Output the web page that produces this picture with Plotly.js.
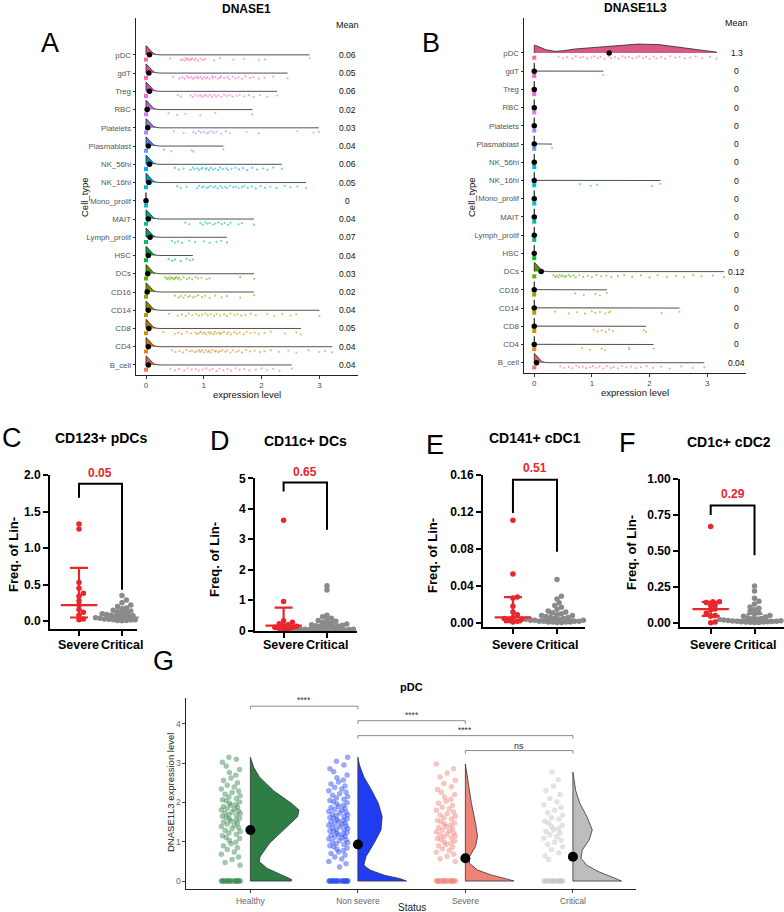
<!DOCTYPE html>
<html>
<head>
<meta charset="utf-8">
<script src="https://cdn.plot.ly/plotly-3.0.1.min.js"></script>
<style>
  body { margin: 0; background: #fff; }
  #plotArea { width: 784px; height: 912px; }
</style>
</head>
<body>
<div id="plotArea"></div>
<script>
// ---------- A / B : ridgelines of DNASE1 and DNASE1L3 per cell type ----------
var cellTypes = ["B_cell", "CD4", "CD8", "CD14", "CD16", "DCs", "HSC", "Lymph_prolif", "MAIT",
    "Mono_prolif", "NK_16hi", "NK_56hi", "Plasmablast", "Platelets", "RBC", "Treg", "gdT", "pDC"];
var cellColors = ["#F8766D", "#E88526", "#D39200", "#B79F00", "#93AA00", "#5EB300", "#00BA38", "#00BF74", "#00C19F",
    "#00BFC4", "#00B9E3", "#00ADFA", "#619CFF", "#AE87FF", "#DB72FB", "#F564E3", "#FF61C3", "#FF699C"];

var dnase1Mean = [0.04, 0.04, 0.05, 0.04, 0.02, 0.03, 0.04, 0.07, 0.04, 0, 0.05, 0.06, 0.04, 0.03, 0.02, 0.06, 0.05, 0.06];
var dnase1l3Mean = [0.04, 0, 0, 0, 0, 0.12, 0, 0, 0, 0, 0, 0, 0, 0, 0, 0, 0, 1.3];

// non-zero expression values (the strip under each ridge)
var dnase1Points = [
    [0.42, 0.5, 0.57, 0.66, 0.72, 0.79, 0.86, 0.91, 0.98, 1.04, 1.1, 1.15, 1.22, 1.27, 1.34, 1.41, 1.47, 1.55, 1.62, 1.7, 1.79, 1.9, 2.0, 2.1, 2.2, 2.31, 2.52],
    [0.45, 0.51, 0.58, 0.64, 0.7, 0.76, 0.8, 0.85, 0.88, 0.92, 0.94, 0.97, 1.0, 1.03, 1.07, 1.09, 1.12, 1.15, 1.19, 1.21, 1.25, 1.28, 1.32, 1.37, 1.4, 1.46, 1.5, 1.56, 1.6, 1.66, 1.73, 1.8, 1.88, 1.97, 2.05, 2.16, 2.3, 2.46, 2.6, 2.81, 3.0, 3.1, 3.22],
    [0.3, 0.5, 0.56, 0.62, 0.71, 0.78, 0.85, 0.88, 0.92, 0.95, 0.99, 1.01, 1.04, 1.08, 1.1, 1.13, 1.17, 1.19, 1.22, 1.26, 1.28, 1.31, 1.35, 1.4, 1.43, 1.47, 1.53, 1.57, 1.62, 1.69, 1.74, 1.81, 1.88, 1.95, 2.05, 2.16, 2.4, 2.6, 2.68],
    [0.4, 0.55, 0.62, 0.69, 0.74, 0.8, 0.87, 0.92, 0.97, 1.03, 1.07, 1.12, 1.18, 1.22, 1.28, 1.35, 1.4, 1.46, 1.53, 1.58, 1.65, 1.72, 1.81, 1.9, 2.1, 2.22, 2.36, 2.5, 2.6, 3.0],
    [0.5, 0.56, 0.6, 0.65, 0.68, 0.73, 0.76, 0.81, 0.85, 0.9, 0.97, 1.02, 1.1, 1.2, 1.31, 1.4, 1.63, 1.87],
    [0.33, 0.36, 0.38, 0.41, 0.42, 0.45, 0.46, 0.49, 0.5, 0.52, 0.55, 0.57, 0.6, 0.65, 0.71, 0.75, 0.8, 0.86, 0.9, 0.96, 1.05, 1.1, 1.63, 1.87],
    [0.39, 0.45, 0.5, 0.6, 0.7, 0.76, 0.81],
    [0.45, 0.5, 0.55, 0.62, 0.75, 0.85, 1.0, 1.1, 1.22, 1.3, 1.4],
    [0.68, 0.75, 0.94, 0.98, 1.03, 1.06, 1.1, 1.16, 1.2, 1.25, 1.31, 1.36, 1.42, 1.46, 1.6, 1.66, 1.87],
    [],
    [0.54, 0.6, 0.7, 0.88, 0.92, 0.97, 1.0, 1.05, 1.08, 1.12, 1.17, 1.2, 1.24, 1.29, 1.32, 1.37, 1.4, 1.45, 1.51, 1.55, 1.6, 1.66, 1.7, 1.76, 1.83, 1.9, 1.98, 2.06, 2.15, 2.26, 2.4, 2.5, 2.62, 2.77],
    [0.5, 0.57, 0.65, 0.77, 0.81, 0.84, 0.89, 0.92, 0.96, 0.98, 1.03, 1.05, 1.09, 1.12, 1.16, 1.2, 1.25, 1.28, 1.33, 1.39, 1.42, 1.48, 1.55, 1.61, 1.68, 1.75, 1.84, 1.92, 2.03, 2.1, 2.2, 2.35],
    [0.31, 0.44, 0.79, 0.82, 1.34],
    [0.48, 0.65, 0.82, 0.86, 0.91, 0.95, 1.0, 1.05, 1.08, 1.13, 1.17, 1.22, 1.3, 1.38, 1.45, 1.74, 1.95, 2.62, 2.9, 2.99],
    [0.39, 0.54, 0.68, 0.94, 1.2, 1.84],
    [0.55, 0.6, 0.77, 0.81, 0.85, 0.9, 0.94, 0.97, 1.01, 1.03, 1.07, 1.11, 1.14, 1.18, 1.21, 1.25, 1.3, 1.35, 1.4, 1.45, 1.5, 1.57, 1.62, 1.7, 1.78, 1.86, 1.97, 2.1, 2.27],
    [0.47, 0.58, 0.63, 0.67, 0.71, 0.74, 0.78, 0.81, 0.84, 0.88, 0.9, 0.94, 0.97, 1.0, 1.04, 1.06, 1.1, 1.14, 1.16, 1.2, 1.24, 1.28, 1.3, 1.35, 1.41, 1.44, 1.5, 1.55, 1.6, 1.66, 1.72, 1.8, 1.86, 1.95, 2.05, 2.2, 2.45],
    [0.42, 0.6, 0.63, 0.66, 0.69, 0.7, 0.73, 0.75, 0.78, 0.8, 0.84, 0.86, 0.9, 0.94, 0.98, 1.02, 1.18, 1.28, 1.51, 1.69, 1.95, 2.06, 2.83]
];
var dnase1l3Points = [
    [0.45, 0.52, 0.6, 0.66, 0.73, 0.78, 0.84, 0.9, 0.97, 1.02, 1.08, 1.13, 1.2, 1.26, 1.33, 1.38, 1.45, 1.52, 1.6, 1.68, 1.76, 1.85, 1.95, 2.06, 2.2, 2.35, 2.55, 2.75, 2.95],
    [0.83, 0.97, 1.17, 1.23, 1.64, 1.65, 2.07],
    [1.03, 1.1, 1.17, 1.24, 1.3, 1.37, 1.9, 1.94],
    [0.36, 0.6, 0.74, 0.88, 1.0, 1.06, 1.14, 1.23, 1.29, 1.32, 2.21, 2.52],
    [0.71, 0.86, 1.06, 1.14, 1.26],
    [0.33, 0.36, 0.39, 0.42, 0.44, 0.47, 0.5, 0.53, 0.55, 0.6, 0.63, 0.68, 0.72, 0.78, 0.85, 0.93, 1.0, 1.08, 1.16, 1.25, 1.34, 1.45, 1.56, 1.7, 1.85, 2.0, 2.14, 2.3, 2.46, 2.6, 2.76, 2.9, 3.1, 3.29],
    [], [], [], [],
    [0.79, 0.98, 1.09, 2.04, 2.19],
    [],
    [0.31],
    [], [], [],
    [1.2],
    [0.42, 0.5, 0.57, 0.66, 0.72, 0.8, 0.85, 0.92, 0.99, 1.04, 1.1, 1.15, 1.22, 1.29, 1.33, 1.4, 1.46, 1.53, 1.58, 1.64, 1.7, 1.77, 1.82, 1.89, 1.94, 2.0, 2.07, 2.12, 2.2, 2.27, 2.36, 2.45, 2.52, 2.61, 2.7, 2.8, 2.91, 3.05, 3.16]
];

// density outline of the pDC ridge in panel B
var pdcDensX = [0, 0.02, 0.1, 0.2, 0.36, 0.5, 0.71, 1.0, 1.29, 1.5, 1.81, 2.16, 2.4, 2.62, 2.91, 3.16];
var pdcDensY = [0.42, 0.42, 0.33, 0.18, 0.09, 0.12, 0.22, 0.3, 0.37, 0.42, 0.49, 0.46, 0.38, 0.27, 0.15, 0.05];
// shared density shape of the zero-inflated ridges
var ridgeX = [0, 0.015, 0.035, 0.06, 0.09, 0.13, 0.18, 0.24];
var ridgeY = [0.5, 0.47, 0.4, 0.28, 0.15, 0.07, 0.02, 0];

// ---------- C-F : flow cytometry, Severe vs Critical ----------
var cd123Severe = [1.33, 1.26, 0.53, 0.45, 0.38, 0.34, 0.28, 0.22, 0.16, 0.12, 0.08, 0.03, 0.02];
var cd123Critical = [0.35, 0.29, 0.25, 0.22, 0.2, 0.18, 0.17, 0.15, 0.14, 0.13, 0.12, 0.11, 0.1, 0.095, 0.09, 0.085, 0.08, 0.075,
    0.07, 0.065, 0.06, 0.055, 0.05, 0.045, 0.04, 0.04, 0.035, 0.03, 0.03, 0.025, 0.02, 0.02, 0.015, 0.01, 0.01, 0.005];
var cd11cSevere = [3.62, 0.95, 0.32, 0.27, 0.22, 0.19, 0.16, 0.14, 0.11, 0.09, 0.07, 0.04, 0.02];
var cd11cCritical = [1.47, 1.33, 0.5, 0.45, 0.4, 0.36, 0.33, 0.3, 0.27, 0.25, 0.23, 0.21, 0.19, 0.17, 0.16, 0.15, 0.14, 0.13,
    0.12, 0.11, 0.1, 0.09, 0.08, 0.07, 0.07, 0.06, 0.05, 0.05, 0.04, 0.04, 0.03, 0.03, 0.02, 0.02, 0.01, 0.01, 0.01, 0, 0, 0];
var cd141Severe = [0.111, 0.053, 0.028, 0.027, 0.018, 0.012, 0.009, 0.006, 0.005, 0.004, 0.003, 0.002, 0.001];
var cd141Critical = [0.047, 0.029, 0.026, 0.022, 0.019, 0.017, 0.015, 0.013, 0.012, 0.011, 0.01, 0.009, 0.008, 0.008, 0.007,
    0.006, 0.006, 0.005, 0.005, 0.004, 0.004, 0.004, 0.003, 0.003, 0.003, 0.002, 0.002, 0.002, 0.002, 0.001, 0.001, 0.001, 0.001, 0.0005, 0.0005];
var cd1cSevere = [0.67, 0.146, 0.145, 0.14, 0.123, 0.12, 0.095, 0.09, 0.065, 0.05, 0.045, 0.005, 0];
var cd1cCritical = [0.255, 0.22, 0.17, 0.15, 0.13, 0.11, 0.1, 0.09, 0.08, 0.07, 0.06, 0.05, 0.045, 0.04, 0.035, 0.03, 0.028,
    0.025, 0.022, 0.02, 0.018, 0.016, 0.015, 0.013, 0.012, 0.01, 0.01, 0.008, 0.007, 0.006, 0.005, 0.004, 0.003, 0.002, 0.001];

var panelTitles = ["CD123+ pDCs", "CD11c+ DCs", "CD141+ cDC1", "CD1c+ cDC2"];
var panelLetters = ["C", "D", "E", "F"];
var pValues = ["0.05", "0.65", "0.51", "0.29"];
var severeMedian = [0.22, 0.16, 0.006, 0.095];
var severeLow = [0.05, 0.04, 0.001, 0.047];
var severeHigh = [0.73, 0.75, 0.028, 0.145];
var criticalMedian = [0.05, 0.1, 0.004, 0.02];
var criticalLow = [0.03, 0.04, 0.002, 0.008];
var criticalHigh = [0.1, 0.2, 0.01, 0.06];
var groupLabels = ["Severe", "Critical"];

// ---------- G : DNASE1L3 in pDC by status ----------
var statusGroups = ["Healthy", "Non severe", "Severe", "Critical"];
var statusMeans = [1.3, 0.93, 0.58, 0.62];
var gHealthy = [0, 0, 0, 0, 0, 0, 0, 0, 0, 0, 0, 0, 0, 0, 0, 0, 0, 0, 0, 0,
    0.4, 0.47, 0.55, 0.61, 0.68, 0.74, 0.8, 0.85, 0.9, 0.95, 0.99, 1.03, 1.08, 1.11, 1.15, 1.19, 1.22, 1.26, 1.29, 1.33,
    1.36, 1.39, 1.42, 1.45, 1.48, 1.5, 1.53, 1.55, 1.58, 1.6, 1.62, 1.65, 1.67, 1.69, 1.72, 1.74, 1.76, 1.78, 1.81, 1.83,
    1.85, 1.88, 1.9, 1.93, 1.95, 1.98, 2.01, 2.04, 2.07, 2.1, 2.14, 2.17, 2.21, 2.25, 2.29, 2.34, 2.39, 2.44, 2.5, 2.56,
    2.62, 2.69, 2.76, 2.84, 2.93, 3.02, 3.1, 3.15];
var gNonSevere = [0, 0, 0, 0, 0, 0, 0, 0, 0, 0, 0, 0, 0, 0, 0, 0, 0, 0, 0, 0, 0, 0,
    0.36, 0.44, 0.5, 0.56, 0.61, 0.66, 0.7, 0.74, 0.78, 0.81, 0.84, 0.87, 0.9, 0.93, 0.95, 0.98, 1.0, 1.03, 1.05, 1.07,
    1.1, 1.12, 1.14, 1.16, 1.18, 1.2, 1.22, 1.24, 1.26, 1.28, 1.3, 1.32, 1.34, 1.36, 1.38, 1.4, 1.42, 1.44, 1.46, 1.48,
    1.5, 1.52, 1.54, 1.56, 1.58, 1.6, 1.62, 1.64, 1.66, 1.68, 1.7, 1.73, 1.75, 1.77, 1.8, 1.82, 1.85, 1.87, 1.9, 1.93,
    1.96, 1.99, 2.02, 2.05, 2.08, 2.11, 2.15, 2.18, 2.22, 2.26, 2.3, 2.34, 2.38, 2.42, 2.47, 2.52, 2.57, 2.63, 2.7, 2.78,
    2.86, 2.95, 3.05, 3.15];
var gSevere = [0, 0, 0, 0, 0, 0, 0, 0, 0, 0, 0, 0, 0, 0, 0, 0, 0, 0, 0, 0,
    0.5, 0.57, 0.63, 0.68, 0.73, 0.78, 0.82, 0.86, 0.9, 0.93, 0.96, 0.99, 1.02, 1.05, 1.08, 1.1, 1.13, 1.15, 1.18, 1.2,
    1.23, 1.25, 1.28, 1.3, 1.33, 1.36, 1.39, 1.42, 1.45, 1.48, 1.51, 1.54, 1.58, 1.61, 1.65, 1.68, 1.72, 1.76, 1.8, 1.84,
    1.88, 1.93, 1.98, 2.03, 2.08, 2.14, 2.2, 2.26, 2.33, 2.4, 2.48, 2.56, 2.65, 2.75, 2.86, 2.98];
var gCritical = [0, 0, 0, 0, 0, 0, 0, 0, 0, 0, 0, 0, 0, 0, 0, 0,
    0.55, 0.64, 0.72, 0.8, 0.87, 0.93, 0.99, 1.04, 1.09, 1.13, 1.18, 1.22, 1.26, 1.3, 1.34, 1.38, 1.42, 1.47, 1.52, 1.57,
    1.62, 1.68, 1.74, 1.8, 1.87, 1.94, 2.02, 2.1, 2.2, 2.3, 2.42, 2.58, 2.77];
// half-violin outlines: expression level and density width
var violinY = [
    [0, 0.04, 0.15, 0.32, 0.49, 0.62, 0.96, 1.3, 1.64, 1.81, 1.98, 2.3, 2.65, 2.9, 3.15],
    [0, 0.06, 0.15, 0.28, 0.4, 0.62, 0.96, 1.3, 1.64, 1.98, 2.3, 2.65, 2.95, 3.15],
    [0, 0.06, 0.15, 0.28, 0.45, 0.62, 0.88, 1.13, 1.47, 1.98, 2.65, 2.98],
    [0, 0.11, 0.23, 0.4, 0.58, 0.79, 1.04, 1.3, 1.64, 1.98, 2.3, 2.77]
];
var violinW = [
    [0.38, 0.384, 0.29, 0.158, 0.083, 0.09, 0.177, 0.31, 0.44, 0.452, 0.38, 0.215, 0.083, 0.03, 0],
    [0.452, 0.395, 0.245, 0.113, 0.056, 0.075, 0.15, 0.215, 0.226, 0.19, 0.13, 0.056, 0.015, 0],
    [0.452, 0.376, 0.245, 0.113, 0.038, 0.038, 0.094, 0.113, 0.094, 0.056, 0.019, 0],
    [0.452, 0.357, 0.245, 0.13, 0.075, 0.087, 0.15, 0.18, 0.13, 0.064, 0.026, 0]
];
var comparisons = [[1, 2, "****"], [2, 3, "****"], [2, 4, "****"], [3, 4, "ns"]];

// ---------- drawing ----------
var W = 784, H = 912;
function px(x) { return x / W; }
function py(y) { return 1 - y / H; }
var FONT = "Liberation Sans, Arial, sans-serif";

var traces = [];
var annotations = [];
var shapes = [];
function add(t) { t.hoverinfo = "skip"; t.showlegend = false; traces.push(t); }
function label(x, y, text, opts) {
    var a = {x: px(x), y: py(y), xref: "paper", yref: "paper", text: text, showarrow: false,
        xanchor: "center", yanchor: "middle", font: {family: FONT, size: 10, color: "#000"}};
    for (var k in opts) a[k] = opts[k];
    annotations.push(a);
}
// ridge fills read a little darker than the points
function darker(hex, f) {
    var n = parseInt(hex.slice(1), 16);
    var r = Math.round(((n >> 16) & 255) * f), g = Math.round(((n >> 8) & 255) * f), b = Math.round((n & 255) * f);
    return "rgb(" + r + "," + g + "," + b + ")";
}

var yJit = [0.05, -0.04, 0.02, -0.06, 0.07, -0.01, 0.03, -0.05, 0.0, 0.06, -0.03, 0.04, -0.07];

function drawRidges(points, means, xa, ya, meanX, customPdc) {
    cellTypes.forEach(function(name, i) {
        var pts = points[i];
        var col = cellColors[i];
        var maxV = pts.length ? Math.max.apply(null, pts) : 0;
        var rx, ry;
        if (customPdc && i === 17) {
            rx = [0].concat(pdcDensX).concat([maxV]);
            ry = [i].concat(pdcDensY.map(function(h) { return i + h; })).concat([i]);
        } else if (means[i] === 0) {
            rx = [0, 0, 0.004, maxV];
            ry = [i, i + 0.45, i + 0.01, i];
        } else {
            rx = [0].concat(ridgeX).concat([Math.max(maxV, 0.24)]);
            ry = [i].concat(ridgeY.map(function(h) { return i + h; })).concat([i]);
        }
        add({type: "scatter", x: rx, y: ry, xaxis: xa, yaxis: ya, mode: "lines", fill: "toself",
            fillcolor: darker(col, 0.85), line: {color: "#262626", width: 0.8}});
        add({type: "scatter", x: pts, y: pts.map(function(v, k) { return i - 0.25 + yJit[k % yJit.length]; }),
            xaxis: xa, yaxis: ya, mode: "markers", marker: {size: 2.2, color: col, opacity: 0.6}});
        add({type: "scatter", x: [0], y: [i - 0.26], xaxis: xa, yaxis: ya, mode: "markers",
            marker: {symbol: "square", size: 4, color: col}});
        add({type: "scatter", x: [means[i]], y: [i], xaxis: xa, yaxis: ya, mode: "markers",
            marker: {size: 5.5, color: "#000"}});
        annotations.push({x: meanX, y: i, xref: xa, yref: ya, text: String(means[i]), showarrow: false,
            font: {family: FONT, size: 8.5, color: "#111"}});
    });
    annotations.push({x: meanX, y: 18.64, xref: xa, yref: ya, text: "Mean", showarrow: false,
        font: {family: FONT, size: 9, color: "#111"}});
}
drawRidges(dnase1Points, dnase1Mean, "x", "y", 3.48, false);
drawRidges(dnase1l3Points, dnase1l3Mean, "x2", "y2", 3.51, true);

function ridgeAxes(x0, x1, y0, y1, xr, yr, anchorX, anchorY) {
    return [{
        domain: [px(x0), px(x1)], range: xr, anchor: anchorY, tickvals: [0, 1, 2, 3], ticks: "outside",
        ticklen: 2.5, tickcolor: "#333", showline: true, linecolor: "#222", linewidth: 1, showgrid: false,
        zeroline: false, tickfont: {family: FONT, size: 8, color: "#4d4d4d"}
    }, {
        domain: [py(y0), py(y1)], range: yr, anchor: anchorX, tickvals: cellTypes.map(function(c, i) { return i; }),
        ticktext: cellTypes, ticks: "outside", ticklen: 2.5, tickcolor: "#333", showline: true, linecolor: "#222",
        linewidth: 1, showgrid: false, zeroline: false, tickfont: {family: FONT, size: 7.8, color: "#555"}
    }];
}
var axA = ridgeAxes(136, 358, 375, 18, [-0.173, 3.668], [-0.55, 19.02], "x", "y");
var axB = ridgeAxes(524, 746, 373, 18, [-0.178, 3.674], [-0.565, 18.92], "x2", "y2");

label(50, 43, "A", {font: {family: FONT, size: 27, color: "#000"}});
label(431, 43, "B", {font: {family: FONT, size: 27, color: "#000"}});
label(247, 9, "<b>DNASE1</b>", {font: {family: FONT, size: 12, color: "#000"}});
label(635, 8, "<b>DNASE1L3</b>", {font: {family: FONT, size: 12, color: "#000"}});
label(247, 394, "expression level", {font: {family: FONT, size: 9.5, color: "#111"}});
label(635, 392, "expression level", {font: {family: FONT, size: 9.5, color: "#111"}});
label(84, 197, "Cell_type", {textangle: -90, font: {family: FONT, size: 9.5, color: "#111"}});
label(471, 197, "Cell_type", {textangle: -90, font: {family: FONT, size: 9.5, color: "#111"}});

// C-F panels
var panelBox = [
    {x0: 50, x1: 137, y0: 628.8, y1: 475, xr: [-0.674, 1.349], yr: [-0.105, 2.0],
        tv: [0, 0.5, 1, 1.5, 2], tt: ["0.0", "0.5", "1.0", "1.5", "2.0"]},
    {x0: 255, x1: 356.5, y0: 630.5, y1: 478.3, xr: [-0.659, 1.68], yr: [0, 5],
        tv: [0, 1, 2, 3, 4, 5], tt: ["0", "1", "2", "3", "4", "5"]},
    {x0: 483, x1: 585, y0: 627, y1: 475, xr: [-0.68, 1.636], yr: [-0.0043, 0.16],
        tv: [0, 0.04, 0.08, 0.12, 0.16], tt: ["0.00", "0.04", "0.08", "0.12", "0.16"]},
    {x0: 680, x1: 783.6, y0: 627, y1: 479, xr: [-0.70, 1.664], yr: [-0.03, 1.0],
        tv: [0, 0.25, 0.5, 0.75, 1], tt: ["0.00", "0.25", "0.50", "0.75", "1.00"]}
];
var letterPos = [[12, 438], [220, 441], [435, 445], [627, 443]];
var titlePos = [[101, 438], [305, 441], [535, 438], [729, 442]];
var yTitlePos = [[13, 555], [214, 560], [432, 555], [631, 553]];
var bracketPos = [[1.69, 1.88, 0.43, 2.03], [4.57, 4.86, 3.31, 5.22], [0.119, 0.155, 0.077, 0.168], [0.75, 0.815, 0.47, 0.895]];
var severeVals = [cd123Severe, cd11cSevere, cd141Severe, cd1cSevere];
var criticalVals = [cd123Critical, cd11cCritical, cd141Critical, cd1cCritical];

// beeswarm layout: offsets in category units so dots of diameter d overlap only a little
function swarm(vals, pxY, pxX, d) {
    var order = vals.map(function(v, i) { return i; }).sort(function(a, b) { return vals[a] - vals[b]; });
    var placed = [], out = [];
    var cands = [0];
    for (var s = 1; s < 60; s++) { cands.push(s * d * 0.4, -s * d * 0.4); }
    order.forEach(function(i) {
        var y = vals[i] * pxY, x = 0;
        for (var c = 0; c < cands.length; c++) {
            var ok = placed.every(function(p) {
                return (p.x - cands[c]) * (p.x - cands[c]) + (p.y - y) * (p.y - y) >= d * d * 0.5;
            });
            if (ok) { x = cands[c]; break; }
        }
        placed.push({x: x, y: y});
        out[i] = x / pxX;
    });
    return out;
}

var layoutAxes = {};
panelBox.forEach(function(b, p) {
    var n = p + 3, xa = "x" + n, ya = "y" + n;
    var pxY = (b.y0 - b.y1) / (b.yr[1] - b.yr[0]);
    var pxX = (b.x1 - b.x0) / (b.xr[1] - b.xr[0]);
    function toPixY(v) { return b.y0 - (v - b.yr[0]) * pxY; }
    function toPixX(v) { return b.x0 + (v - b.xr[0]) * pxX; }
    var dot = 5.5;
    var offC = swarm(criticalVals[p], pxY, pxX, dot);
    var offS = swarm(severeVals[p], pxY, pxX, dot);
    add({type: "scatter", x: offC.map(function(o) { return 1 + o; }), y: criticalVals[p], xaxis: xa, yaxis: ya,
        mode: "markers", cliponaxis: false, marker: {size: dot, color: "#8a8a8a"}});
    add({type: "scatter", x: [1], y: [criticalMedian[p]], xaxis: xa, yaxis: ya, mode: "markers", cliponaxis: false,
        marker: {symbol: "line-ew-open", size: 24, color: "#8a8a8a", line: {color: "#8a8a8a", width: 2}},
        error_y: {type: "data", symmetric: false, array: [criticalHigh[p] - criticalMedian[p]],
            arrayminus: [criticalMedian[p] - criticalLow[p]], width: 8, thickness: 2, color: "#8a8a8a"}});
    add({type: "scatter", x: offS, y: severeVals[p], xaxis: xa, yaxis: ya,
        mode: "markers", cliponaxis: false, marker: {size: dot, color: "#e8262b"}});
    add({type: "scatter", x: [0], y: [severeMedian[p]], xaxis: xa, yaxis: ya, mode: "markers", cliponaxis: false,
        marker: {symbol: "line-ew-open", size: 26, color: "#e8262b", line: {color: "#e8262b", width: 2.2}},
        error_y: {type: "data", symmetric: false, array: [severeHigh[p] - severeMedian[p]],
            arrayminus: [severeMedian[p] - severeLow[p]], width: 9, thickness: 2.2, color: "#e8262b"}});

    var br = bracketPos[p];
    shapes.push({type: "path", xref: xa, yref: ya,
        path: "M0," + br[0] + " L0," + br[1] + " L1," + br[1] + " L1," + br[2],
        line: {color: "#000", width: 2}});
    label(toPixX(0.5), toPixY(br[3]), "<b>" + pValues[p] + "</b>", {font: {family: FONT, size: 12, color: "#e8262b"}});
    groupLabels.forEach(function(g, k) {
        label(toPixX(k), 645, "<b>" + g + "</b>", {font: {family: FONT, size: 12.5, color: "#000"}});
    });

    layoutAxes["xaxis" + n] = {domain: [px(b.x0), px(b.x1)], range: b.xr, anchor: ya, tickvals: [0, 1],
        showticklabels: false, ticks: "outside", ticklen: 5,
        tickwidth: 2, tickcolor: "#000", showline: true, linecolor: "#000", linewidth: 2, showgrid: false,
        zeroline: false};
    layoutAxes["yaxis" + n] = {domain: [py(b.y0), py(b.y1)], range: b.yr, anchor: xa, tickvals: b.tv,
        ticktext: b.tt.map(function(t) { return "<b>" + t + "</b>"; }), ticks: "outside", ticklen: 5, tickwidth: 2,
        tickcolor: "#000", showline: true, linecolor: "#000", linewidth: 2, showgrid: false, zeroline: false,
        tickfont: {family: FONT, size: 12, color: "#000"}};

    label(letterPos[p][0], letterPos[p][1], panelLetters[p], {font: {family: FONT, size: 27, color: "#000"}});
    label(titlePos[p][0], titlePos[p][1], "<b>" + panelTitles[p] + "</b>", {font: {family: FONT, size: 14, color: "#000"}});
    label(yTitlePos[p][0], yTitlePos[p][1], "<b>Freq. of Lin-</b>", {textangle: -90, font: {family: FONT, size: 13, color: "#000"}});
});

// G panel
var gVals = [gHealthy, gNonSevere, gSevere, gCritical];
var gPoint = ["#3d8a53", "#2b4df2", "#f0877b", "#c4c4c4"];
var gFill = ["#2e7d45", "#1f3cf0", "#ee8277", "#bdbdbd"];
var xJit = [-0.08, 0.05, -0.02, 0.085, -0.055, 0.01, 0.07, -0.09, 0.03, -0.035, 0.06, -0.07, 0.0, 0.045, -0.015, 0.08, -0.045];
gVals.forEach(function(vals, g) {
    var cx = g + 1;
    add({type: "scatter", x: vals.map(function(v, k) { return cx - 0.18 + xJit[k % xJit.length]; }), y: vals,
        xaxis: "x7", yaxis: "y7", mode: "markers", marker: {size: 5.5, color: gPoint[g], opacity: 0.48}});
    var vx = [cx].concat(violinW[g].map(function(w) { return cx + w; })).concat([cx]);
    var vy = [0].concat(violinY[g]).concat([0]);
    add({type: "scatter", x: vx, y: vy, xaxis: "x7", yaxis: "y7", mode: "lines", fill: "toself",
        fillcolor: gFill[g], line: {color: "#333", width: 0.8}});
});
add({type: "scatter", x: [1, 2, 3, 4], y: statusMeans, xaxis: "x7", yaxis: "y7", mode: "markers",
    marker: {size: 10, color: "#000"}});

var bracketY = [4.45, 4.08, 3.70, 3.32];
comparisons.forEach(function(c, k) {
    var yTop = bracketY[k];
    shapes.push({type: "path", xref: "x7", yref: "y7",
        path: "M" + c[0] + "," + (yTop - 0.08) + " L" + c[0] + "," + yTop + " L" + c[1] + "," + yTop + " L" + c[1] + "," + (yTop - 0.08),
        line: {color: "#8a8a8a", width: 1}});
    annotations.push({x: (c[0] + c[1]) / 2, y: yTop + (c[2] === "ns" ? 0.12 : 0.15), xref: "x7", yref: "y7",
        text: c[2], showarrow: false, font: {family: FONT, size: c[2] === "ns" ? 9 : 8.5, color: "#333"}});
});
layoutAxes.xaxis7 = {domain: [px(186.4), px(635.8)], range: [0.405, 4.585], anchor: "y7", tickvals: [1, 2, 3, 4],
    ticktext: statusGroups, ticks: "outside", ticklen: 3, tickcolor: "#444", showline: true, linecolor: "#222",
    linewidth: 1, showgrid: false, zeroline: false, tickfont: {family: FONT, size: 8.5, color: "#666"}};
layoutAxes.yaxis7 = {domain: [py(889.3), py(698.3)], range: [-0.21, 4.65], anchor: "x7", tickvals: [0, 1, 2, 3, 4],
    ticks: "outside", ticklen: 3, tickcolor: "#444", showline: true, linecolor: "#222", linewidth: 1,
    showgrid: false, zeroline: false, tickfont: {family: FONT, size: 8.5, color: "#666"}};
label(163, 661, "G", {font: {family: FONT, size: 27, color: "#000"}});
label(411, 687, "<b>pDC</b>", {font: {family: FONT, size: 11, color: "#000"}});
label(412, 907, "Status", {font: {family: FONT, size: 10, color: "#222"}});
label(170, 793, "DNASE1L3 expression level", {textangle: -90, font: {family: FONT, size: 9.5, color: "#222"}});

var layout = {
    width: W, height: H, autosize: false, margin: {l: 0, r: 0, t: 0, b: 0},
    paper_bgcolor: "#fff", plot_bgcolor: "rgba(0,0,0,0)", showlegend: false,
    font: {family: FONT},
    xaxis: axA[0], yaxis: axA[1], xaxis2: axB[0], yaxis2: axB[1],
    annotations: annotations, shapes: shapes
};
for (var k in layoutAxes) layout[k] = layoutAxes[k];

Plotly.newPlot("plotArea", traces, layout, {displayModeBar: false, staticPlot: true});
</script>
</body>
</html>
